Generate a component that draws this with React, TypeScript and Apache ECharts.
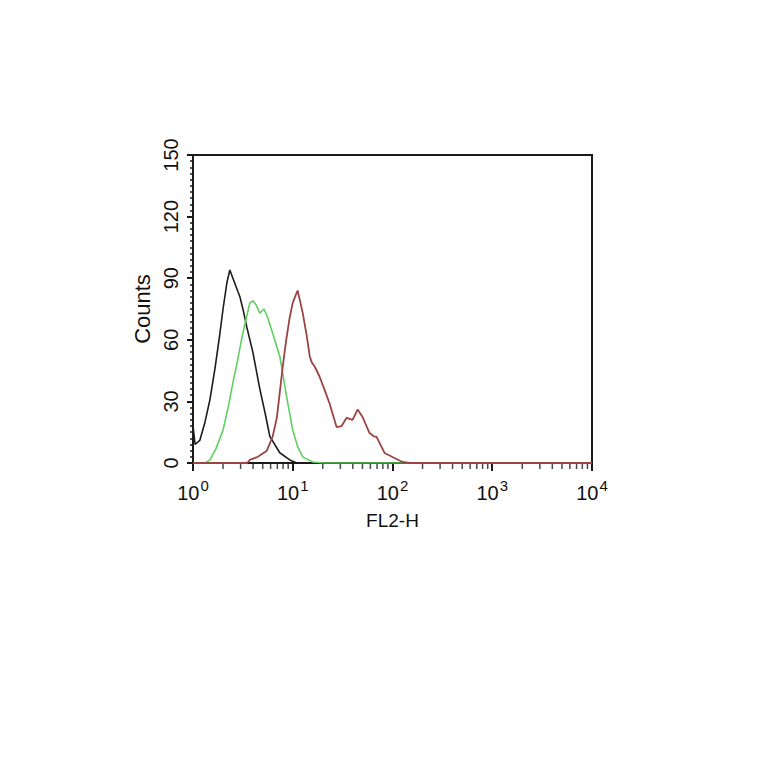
import React, { useEffect, useRef } from "react";
import * as echarts from "echarts";

// FL2-H (log) vs Counts
const blackX = [1, 1.05, 1.17, 1.32, 1.48, 1.66, 1.86, 2.0, 2.19, 2.34, 2.6, 2.95, 3.2, 3.47, 3.98, 4.68, 5.3, 5.89, 7.41, 9.33, 10.96];
const blackY = [18, 9, 11, 20, 31, 46, 63, 75, 88, 94, 88, 81, 74, 66, 54, 36, 24, 13, 5, 1.5, 0];

const greenX = [1, 1.32, 1.48, 1.7, 2.0, 2.25, 2.51, 2.8, 3.09, 3.4, 3.72, 3.98, 4.3, 4.68, 5.13, 5.5, 6.31, 7.41, 8.71, 10, 11.2, 12.6, 15.8, 20, 10000];
const greenY = [0, 0, 1.5, 7, 16, 27, 39, 50, 61, 70, 78, 79, 77, 73, 75, 72, 63, 52, 32, 16, 8, 3, 0.5, 0, 0];

const redX = [1, 3.5, 3.72, 4.47, 5.5, 6.3, 6.92, 7.4, 7.94, 8.6, 9.33, 10, 10.96, 11.2, 12.6, 13.8, 14.8, 15.5, 16.6, 18.6, 20.9, 23.4, 27.5, 30.9, 34.7, 39.8, 44.7, 50.1, 58.9, 65, 69.2, 83.2, 100, 126, 148, 10000];
const redY = [0, 0, 1.5, 3, 6, 13, 22, 34, 47, 60, 71, 78, 83, 84, 73, 62, 52, 49, 47, 42, 35.5, 29, 17.5, 18, 22, 21, 26, 22.4, 14.6, 13, 12.7, 4.9, 2.9, 0.5, 0, 0];

const xMinorTicks = [2, 3, 4, 5, 6, 7, 8, 9, 20, 30, 40, 50, 60, 70, 80, 90, 200, 300, 400, 500, 600, 700, 800, 900, 2000, 3000, 4000, 5000, 6000, 7000, 8000, 9000];

const zip = (xs: number[], ys: number[]) => xs.map((x, i) => [x, ys[i]]);

export default function App() {
  const ref = useRef<HTMLDivElement>(null);
  useEffect(() => {
    if (!ref.current) return;
    const chart = echarts.init(ref.current, null, { renderer: "svg" });
    const font = "'Liberation Sans Narrow', 'Liberation Sans', Arial, sans-serif";
    chart.setOption({
      animation: false,
      backgroundColor: "#ffffff",
      grid: {
        left: 193,
        top: 155,
        width: 399,
        height: 308,
        show: true,
        borderColor: "#1a1a1a",
        borderWidth: 2,
        backgroundColor: "transparent",
      },
      xAxis: {
        type: "log",
        logBase: 10,
        min: 1,
        max: 10000,
        name: "FL2-H",
        nameLocation: "middle",
        nameGap: 48,
        nameTextStyle: { fontFamily: font, fontSize: 19, color: "#111" },
        axisLine: { show: true, lineStyle: { color: "#1a1a1a", width: 2 } },
        axisTick: { show: true, inside: false, length: 8, lineStyle: { color: "#1a1a1a", width: 2 } },
        splitLine: { show: false },
        axisLabel: {
          margin: 15,
          color: "#111",
          fontFamily: font,
          formatter: (v: number) => `{b|10}{s|${Math.round(Math.log10(v))}}`,
          rich: {
            b: { fontFamily: font, fontSize: 20, color: "#111", verticalAlign: "bottom" },
            s: { fontFamily: font, fontSize: 15, color: "#111", verticalAlign: "top", padding: [0, 0, 10, 1] },
          },
        },
      },
      yAxis: {
        type: "value",
        min: 0,
        max: 150,
        interval: 30,
        name: "Counts",
        nameLocation: "middle",
        nameGap: 34,
        nameRotate: 90,
        nameTextStyle: { fontFamily: font, fontSize: 22, color: "#111" },
        axisLine: { show: true, lineStyle: { color: "#1a1a1a", width: 2 } },
        axisTick: { show: true, inside: false, length: 6, lineStyle: { color: "#1a1a1a", width: 2 } },
        minorTick: { show: true, splitNumber: 10, length: 3, lineStyle: { color: "#1a1a1a", width: 1.5 } },
        splitLine: { show: false },
        axisLabel: {
          rotate: 90,
          margin: 12,
          fontFamily: font,
          fontSize: 20,
          color: "#111",
        },
      },
      series: [
        {
          type: "scatter",
          data: xMinorTicks.map((x) => [x, 0]),
          symbol: "rect",
          symbolSize: [1.5, 5],
          symbolOffset: [0, 3.5],
          itemStyle: { color: "#1a1a1a" },
          clip: false,
          silent: true,
          z: 5,
        },
        {
          type: "line",
          data: zip(blackX, blackY),
          showSymbol: false,
          smooth: false,
          lineStyle: { color: "#1c1c1c", width: 1.6 },
          z: 2,
        },
        {
          type: "line",
          data: zip(greenX, greenY),
          showSymbol: false,
          lineStyle: { color: "#5fcf5f", width: 1.6 },
          z: 3,
        },
        {
          type: "line",
          data: zip(redX, redY),
          showSymbol: false,
          lineStyle: { color: "#9a4444", width: 1.8 },
          z: 4,
        },
      ],
    });
    return () => chart.dispose();
  }, []);
  return (
    <div
      ref={ref}
      style={{ position: "fixed", left: 0, top: 0, width: 764, height: 764, background: "#fff" }}
    />
  );
}
